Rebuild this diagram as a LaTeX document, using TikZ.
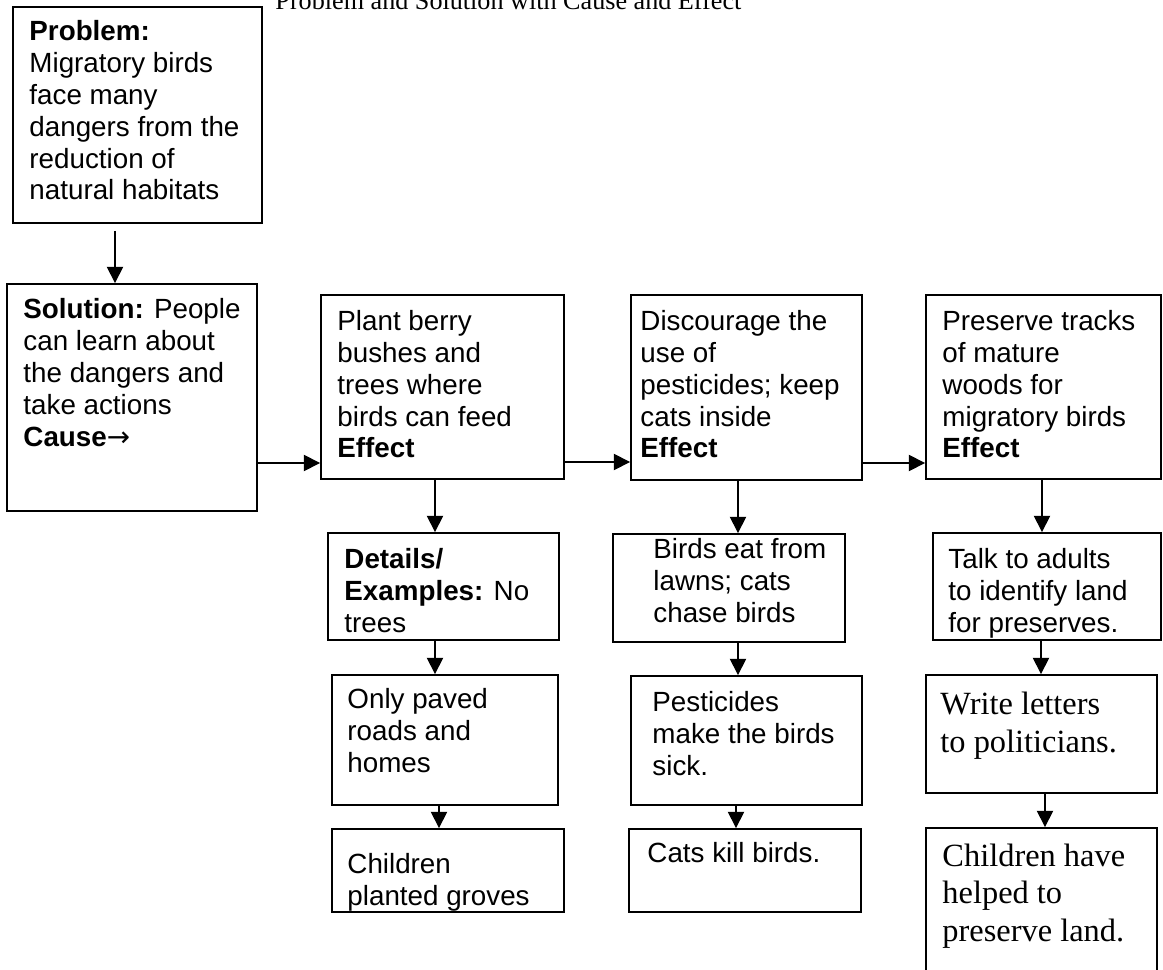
\documentclass[tikz,border=0pt]{standalone}
\usepackage{fontspec}
\setmainfont{Liberation Sans}
\newfontfamily\timesfont{Liberation Serif}
\newfontfamily\arrowfont{DejaVu Sans}
\usetikzlibrary{arrows.meta,fit}

\begin{document}
\begin{tikzpicture}[x=0.432pt, y=-0.432pt]
        \tikzset{
            box/.style={draw, line width=0.8pt, inner sep=0pt},
            box_text/.style={anchor=base west, align=left, inner sep=0pt, font=\fontsize{12pt}{13.8pt}\selectfont},
            serif_text/.style={anchor=base west, align=left, inner sep=0pt, font=\timesfont\fontsize{14pt}{16pt}\selectfont},
            arrow_line/.style={line width=0.6pt, -{Triangle[length=7pt, width=7pt]}}
        }
        \clip (0,0) rectangle (1163,970);

        \node[anchor=base west, inner sep=0pt, font=\timesfont\fontsize{11.3pt}{13pt}\selectfont] (title) at (275,10) {Problem and Solution with Cause and Effect};

        % boxes
        \node[box, fit={(13,7) (262,223)}] (prob) {};
        \node[box, fit={(7,284) (257,511)}] (sol) {};
        \node[box, fit={(321,295) (564,479)}] (plant) {};
        \node[box, fit={(631,295) (862,480)}] (disc) {};
        \node[box, fit={(926,295) (1161,479)}] (pres) {};
        \node[box, fit={(328,533) (559,640)}] (det) {};
        \node[box, fit={(613,534) (845,642)}] (birds) {};
        \node[box, fit={(933,533) (1161,640)}] (talk) {};
        \node[box, fit={(332,675) (558,805)}] (paved) {};
        \node[box, fit={(631,676) (862,805)}] (pest) {};
        \node[box, fit={(926,675) (1157,793)}] (letters) {};
        \node[box, fit={(332,829) (564,912)}] (groves) {};
        \node[box, fit={(629,829) (861,912)}] (cats) {};
        \node[box, fit={(926,828) (1157,1000)}] (helped) {};

        % texts (placed at the baseline of their last line)
        \node[box_text] (prob_txt) at (29,200) {\textbf{Problem:}\\Migratory birds\\face many\\dangers from the\\reduction of\\natural habitats};
        \node[box_text] (sol_txt) at (23,446) {\textbf{Solution:} People\\can learn about\\the dangers and\\take actions\\\textbf{Cause}{\arrowfont →}};
        \node[box_text] (plant_txt) at (337,458) {Plant berry\\bushes and\\trees where\\birds can feed\\\textbf{Effect}};
        \node[box_text] (disc_txt) at (640,458) {Discourage the\\use of\\pesticides; keep\\cats inside\\\textbf{Effect}};
        \node[box_text] (pres_txt) at (942,458) {Preserve tracks\\of mature\\woods for\\migratory birds\\\textbf{Effect}};
        \node[box_text] (det_txt) at (344,632) {\textbf{Details/}\\\textbf{Examples:} No\\trees};
        \node[box_text] (birds_txt) at (653,622) {Birds eat from\\lawns; cats\\chase birds};
        \node[box_text] (talk_txt) at (948,632) {Talk to adults\\to identify land\\for preserves.};
        \node[box_text] (paved_txt) at (347,772) {Only paved\\roads and\\homes};
        \node[box_text] (pest_txt) at (652,775) {Pesticides\\make the birds\\sick.};
        \node[serif_text] (letters_txt) at (940,752) {Write letters\\to politicians.};
        \node[box_text] (groves_txt) at (347,905) {Children\\planted groves};
        \node[box_text] (cats_txt) at (647,862) {Cats kill birds.};
        \node[serif_text] (helped_txt) at (942,941) {Children have\\helped to\\preserve land.};

        % arrows
        \draw[arrow_line, shorten <=3pt] (115,0 |- prob.south) -- (115,0 |- sol.north);
        \draw[arrow_line] (sol.east |- 0,463) -- (plant.west |- 0,463);
        \draw[arrow_line] (plant.east |- 0,462) -- (disc.west |- 0,462);
        \draw[arrow_line] (disc.east |- 0,463) -- (pres.west |- 0,463);
        \foreach \x/\a/\b in {435/plant/det, 435/det/paved, 439/paved/groves,
                              738/disc/birds, 738/birds/pest, 736/pest/cats,
                              1042/pres/talk, 1041/talk/letters, 1045/letters/helped}
            \draw[arrow_line] (\x,0 |- \a.south) -- (\x,0 |- \b.north);
\end{tikzpicture}
\end{document}
